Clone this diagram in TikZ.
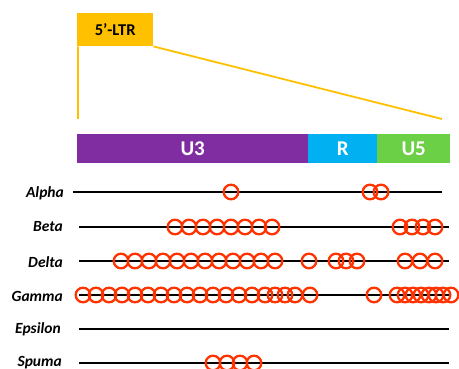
\documentclass[tikz,border=0pt]{standalone}
\usepackage{fontspec}
\setmainfont{Carlito}
\definecolor{ltrgold}{HTML}{FFC000}
\definecolor{u3purple}{HTML}{7F2DA0}
\definecolor{rblue}{HTML}{00B0F0}
\definecolor{u5green}{HTML}{6CD046}
\definecolor{siteorange}{HTML}{FF3300}
\begin{document}
\begin{tikzpicture}[x=1pt,y=-1pt,
  seg/.style={fill=#1, draw=none, text=white, font=\fontsize{21}{21}\selectfont\bfseries, inner sep=0pt, anchor=north west, minimum height=29pt},
  lbl/.style={font=\fontsize{15.5}{15.5}\selectfont\bfseries\itshape, anchor=east, inner sep=0pt},
  track/.style={line width=1.8pt, black},
  site/.style={draw=siteorange, line width=2.3pt},
  zoomline/.style={draw=ltrgold, line width=1.8pt}]
\useasboundingbox (0,0) rectangle (459,369);
% LTR box
\node[fill=ltrgold, anchor=north west, minimum width=76pt, minimum height=33pt, inner sep=0pt, font=\fontsize{16.5}{16.5}\selectfont\bfseries] (ltr) at (77,13) {5’-LTR};
\coordinate (zl) at (78,119);
\coordinate (zr) at (442,119);
\draw[zoomline] ([xshift=0.9pt]ltr.south west) -- (zl);
\draw[zoomline] (ltr.south east) -- (zr);
% bar
\node[seg=u3purple, minimum width=231pt] (u3) at (77,134) {U3};
\node[seg=rblue, minimum width=69pt] (r) at (308,134) {R};
\node[seg=u5green, minimum width=73pt] (u5) at (377,134) {U5};
% labels
\node[lbl] (alpha) at (64,193) {Alpha};
\node[lbl] (beta) at (63,227) {Beta};
\node[lbl] (delta) at (63,262) {Delta};
\node[lbl] (gamma) at (63,296) {Gamma};
\node[lbl] (epsilon) at (61,329) {Epsilon};
\node[lbl] (spuma) at (62,363) {Spuma};
% tracks
\draw[track] (73,192) -- (442,192);
\draw[track] (79,227) -- (449,227);
\draw[track] (79,261) -- (449,261);
\draw[track] (79,295) -- (449,295);
\draw[track] (79,329) -- (449,329);
\draw[track] (79,363) -- (449,363);
% sites
\def\r{7.3}
\foreach \x in {231,370,381} \draw[site] (\x,192) circle (\r);
\foreach \x in {175,189,203,217,231,245,259,272,400,412,423,435} \draw[site] (\x,227) circle (\r);
\foreach \x in {121,135,149,163,177,191,205,219,233,247,261,275,309,336,346,357,405,420,435} \draw[site] (\x,261) circle (\r);
\foreach \x in {83,96,109,122,135,148,161,174,187,200,213,226,239,252,265,275,285,295,310,374,397,405,413,421,429,436,443,451} \draw[site] (\x,295) circle (\r);
\foreach \x in {213,227,240,254} \draw[site] (\x,363) circle (\r);
\end{tikzpicture}
\end{document}
